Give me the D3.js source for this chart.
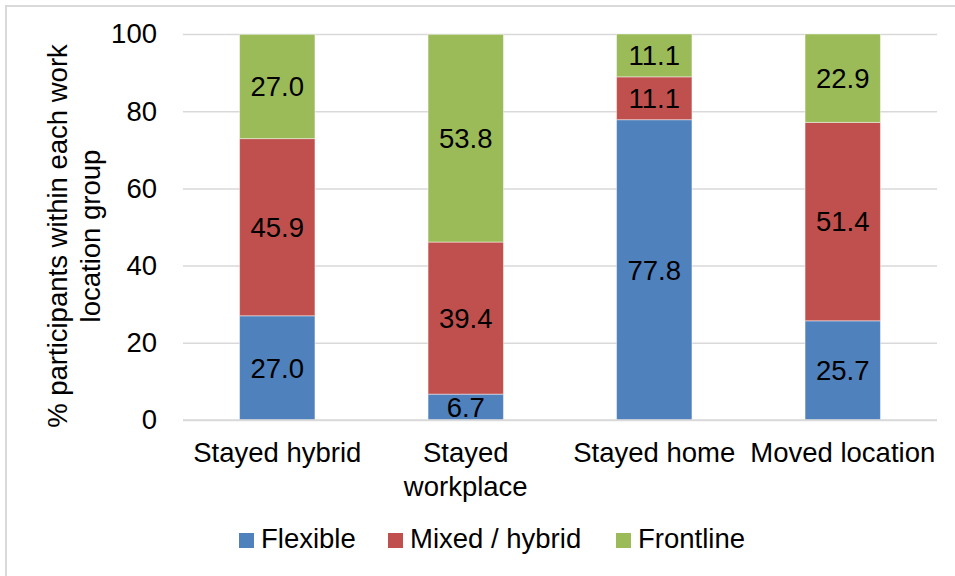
<!DOCTYPE html>
<html>
<head>
<meta charset="utf-8">
<script src="https://cdn.jsdelivr.net/npm/d3@7"></script>
<style>
  html, body { margin: 0; padding: 0; background: #fff; }
  svg text { font-family: "Liberation Sans", Arial, sans-serif; fill: #000; }
</style>
</head>
<body>
<svg id="chart" width="955" height="576"></svg>
<script>
// Work location groups (x categories); "\n" marks a wrapped label
const categories = ["Stayed hybrid", "Stayed\nworkplace", "Stayed home", "Moved location"];
// Stacked series, bottom to top
const seriesNames = ["Flexible", "Mixed / hybrid", "Frontline"];
const flexible = [27.0, 6.7, 77.8, 25.7];
const mixedHybrid = [45.9, 39.4, 11.1, 51.4];
const frontline = [27.0, 53.8, 11.1, 22.9];
const seriesColors = ["#4F81BD", "#C0504D", "#9BBB59"];
const yTicks = [0, 20, 40, 60, 80, 100];
const yTitle = ["% participants within each work", "location group"];

const svg = d3.select("#chart");
const fontSize = 27.5;
const plot = { left: 183, right: 937, top: 34, bottom: 420 };

// Frame around the chart area
svg.append("path")
  .attr("d", "M6,576 V6 H955")
  .attr("fill", "none")
  .attr("stroke", "#d9d9d9")
  .attr("stroke-width", 2);

const rows = categories.map((c, i) => ({
  category: c,
  "Flexible": flexible[i],
  "Mixed / hybrid": mixedHybrid[i],
  "Frontline": frontline[i]
}));
const stacked = d3.stack().keys(seriesNames)(rows);

const x = d3.scaleBand()
  .domain(categories)
  .range([plot.left, plot.right])
  .paddingInner(0.6)
  .paddingOuter(0.3);
const y = d3.scaleLinear().domain([0, 100]).range([plot.bottom, plot.top]);
const color = d3.scaleOrdinal().domain(seriesNames).range(seriesColors);

// Horizontal gridlines and tick labels
const yAxis = d3.axisLeft(y)
  .tickValues(yTicks)
  .tickSize(-(plot.right - plot.left))
  .tickPadding(26)
  .tickFormat(d3.format("d"));
const gy = svg.append("g")
  .attr("transform", `translate(${plot.left},0)`)
  .call(yAxis);
gy.select(".domain").remove();
gy.selectAll(".tick line").attr("stroke", "#d9d9d9").attr("stroke-width", 1.5);
gy.selectAll(".tick text")
  .attr("font-size", fontSize)
  .attr("font-family", "Liberation Sans, Arial, sans-serif")
  .attr("fill", "#000");

// Stacked bars
const layers = svg.append("g").selectAll("g")
  .data(stacked)
  .join("g")
  .attr("fill", d => color(d.key));

layers.selectAll("rect")
  .data(d => d)
  .join("rect")
  .attr("x", d => x(d.data.category))
  .attr("width", x.bandwidth())
  .attr("y", d => y(d[1]))
  .attr("height", d => y(d[0]) - y(d[1]))
  .attr("stroke", "#ffffff")
  .attr("stroke-opacity", 0.45)
  .attr("stroke-width", 1);

// Segment value labels
layers.selectAll("text")
  .data(d => d)
  .join("text")
  .attr("x", d => x(d.data.category) + x.bandwidth() / 2)
  .attr("y", d => (y(d[0]) + y(d[1])) / 2)
  .attr("text-anchor", "middle")
  .attr("dy", "0.36em")
  .attr("font-size", fontSize)
  .text(d => (d[1] - d[0]).toFixed(1));

// Category axis line
svg.append("line")
  .attr("x1", plot.left).attr("x2", plot.right)
  .attr("y1", y(0)).attr("y2", y(0))
  .attr("stroke", "#d9d9d9")
  .attr("stroke-width", 1.5);

// Category labels (wrapped)
const catLabels = svg.append("g").selectAll("text")
  .data(categories)
  .join("text")
  .attr("x", d => x(d) + x.bandwidth() / 2)
  .attr("y", 462)
  .attr("text-anchor", "middle")
  .attr("font-size", fontSize);
catLabels.selectAll("tspan")
  .data(d => d.split("\n").map(line => ({ line, parent: d })))
  .join("tspan")
  .attr("x", d => x(d.parent) + x.bandwidth() / 2)
  .attr("dy", (d, i) => i === 0 ? 0 : 34)
  .text(d => d.line);

// Y axis title (two centred lines, rotated)
const titleCenterY = 236;
svg.append("g")
  .selectAll("text")
  .data(yTitle)
  .join("text")
  .attr("transform", (d, i) => `translate(${67 + i * 33},${titleCenterY}) rotate(-90)`)
  .attr("text-anchor", "middle")
  .attr("font-size", fontSize)
  .text(d => d);

// Legend
const legendX = [239, 388, 616];
const legend = svg.append("g").selectAll("g")
  .data(seriesNames)
  .join("g")
  .attr("transform", (d, i) => `translate(${legendX[i]},548)`);
legend.append("rect")
  .attr("x", 0).attr("y", -15)
  .attr("width", 15).attr("height", 15)
  .attr("fill", d => color(d));
legend.append("text")
  .attr("x", 22).attr("y", 0)
  .attr("font-size", fontSize)
  .text(d => d);
</script>
</body>
</html>
